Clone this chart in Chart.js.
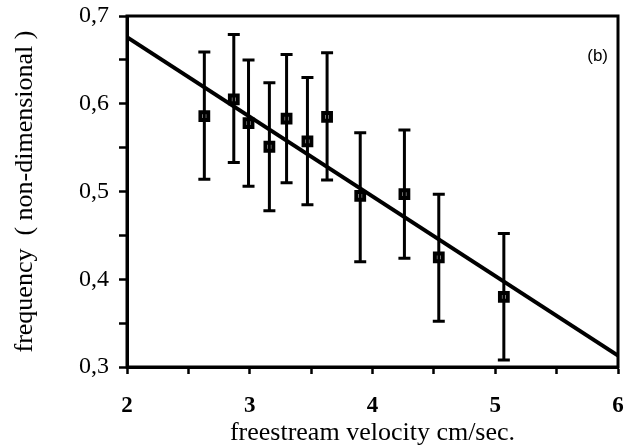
<!DOCTYPE html>
<html>
<head>
<meta charset="utf-8">
<script src="https://cdn.jsdelivr.net/npm/chart.js@4"></script>
<style>
  html, body { margin: 0; padding: 0; background: #fff; }
  #wrap { width: 628px; height: 447px; }
</style>
</head>
<body>
<div id="wrap"><canvas id="myChart" width="628" height="447"></canvas></div>
<script>
const velocity  = [2.63, 2.87, 2.99, 3.16, 3.30, 3.47, 3.63, 3.90, 4.26, 4.54, 5.07];
const frequency = [0.586, 0.605, 0.578, 0.551, 0.583, 0.557, 0.585, 0.495, 0.497, 0.425, 0.380];
const errHigh   = [0.659, 0.679, 0.650, 0.624, 0.656, 0.630, 0.658, 0.567, 0.570, 0.497, 0.452];
const errLow    = [0.514, 0.533, 0.506, 0.478, 0.510, 0.485, 0.513, 0.420, 0.424, 0.352, 0.308];
// fitted straight line, end points
const fitX = [2, 6];
const fitY = [0.676, 0.313];

const serif = "'Liberation Serif', 'DejaVu Serif', serif";

// error bars, drawn with the chart's own scales
const errorBars = {
    id: 'errorBars',
    afterDatasetsDraw(chart) {
        const ctx = chart.ctx;
        const xs = chart.scales.x, ys = chart.scales.y;
        ctx.save();
        ctx.strokeStyle = '#000';
        ctx.lineWidth = 3;
        for (let i = 0; i < velocity.length; i++) {
            const px = xs.getPixelForValue(velocity[i]);
            const top = ys.getPixelForValue(errHigh[i]);
            const bot = ys.getPixelForValue(errLow[i]);
            ctx.beginPath();
            ctx.moveTo(px, top); ctx.lineTo(px, bot);
            ctx.moveTo(px - 6, top); ctx.lineTo(px + 6, top);
            ctx.moveTo(px - 6, bot); ctx.lineTo(px + 6, bot);
            ctx.stroke();
        }
        ctx.restore();
    }
};

// box around the plot area + "(b)" label
const frame = {
    id: 'frame',
    afterDraw(chart) {
        const a = chart.chartArea, ctx = chart.ctx;
        ctx.save();
        ctx.strokeStyle = '#000';
        ctx.lineWidth = 3;
        ctx.strokeRect(a.left, a.top, a.right - a.left, a.bottom - a.top);
        ctx.fillStyle = '#000';
        ctx.font = "17px 'Liberation Sans', Arial, sans-serif";
        ctx.textAlign = 'right';
        ctx.textBaseline = 'middle';
        ctx.fillText('(b)', a.right - 10, a.top + 40);
        ctx.restore();
    }
};

let ctx = document.getElementById('myChart').getContext('2d');
let myChart = new Chart(ctx, {
    type: 'scatter',
    data: {
        datasets: [{
            label: 'data',
            data: velocity.map((v, i) => ({x: v, y: frequency[i]})),
            pointStyle: 'rect',
            pointRadius: 5.5,
            borderWidth: 4,
            borderColor: '#000',
            backgroundColor: '#fff',
            order: 0
        }, {
            label: 'fit',
            type: 'line',
            data: fitX.map((v, i) => ({x: v, y: fitY[i]})),
            borderColor: '#000',
            borderWidth: 4,
            pointRadius: 0,
            order: 1
        }]
    },
    options: {
        responsive: false,
        animation: false,
        layout: { padding: { top: 16, right: 10, left: 0, bottom: 0 } },
        plugins: { legend: { display: false }, tooltip: { enabled: false } },
        scales: {
            x: {
                type: 'linear',
                min: 2, max: 6,
                afterFit: (s) => { s.height = 80; s.paddingLeft = 0; s.paddingRight = 0; },
                grid: { drawOnChartArea: false, tickLength: 7, tickColor: '#000', tickWidth: 2.5 },
                border: { color: '#000', width: 3 },
                ticks: {
                    stepSize: 0.5,
                    color: '#000',
                    font: { family: serif, size: 23, weight: 'bold', lineHeight: 1.2 },
                    padding: 18,
                    maxRotation: 0,
                    callback: (v) => Number.isInteger(v) ? String(v) : ''
                },
                title: {
                    display: true,
                    text: 'freestream velocity cm/sec.',
                    color: '#000',
                    font: { family: serif, size: 26, lineHeight: 1 },
                    padding: { top: 0, bottom: 1 }
                }
            },
            y: {
                min: 0.3, max: 0.7,
                afterFit: (s) => { s.width = 127; s.paddingTop = 0; s.paddingBottom = 0; },
                grid: { drawOnChartArea: false, tickLength: 8, tickColor: '#000', tickWidth: 2.5 },
                border: { color: '#000', width: 3 },
                ticks: {
                    stepSize: 0.05,
                    color: '#000',
                    font: { family: serif, size: 24 },
                    padding: 10,
                    callback: (v) => Math.abs(v * 10 - Math.round(v * 10)) < 1e-6 ? v.toFixed(1).replace('.', ',') : ''
                },
                title: {
                    display: true,
                    text: 'frequency  ( non-dimensional )',
                    color: '#000',
                    font: { family: serif, size: 26, lineHeight: 1 },
                    padding: { top: 12, bottom: 0 }
                }
            }
        }
    },
    plugins: [errorBars, frame]
});
</script>
</body>
</html>
